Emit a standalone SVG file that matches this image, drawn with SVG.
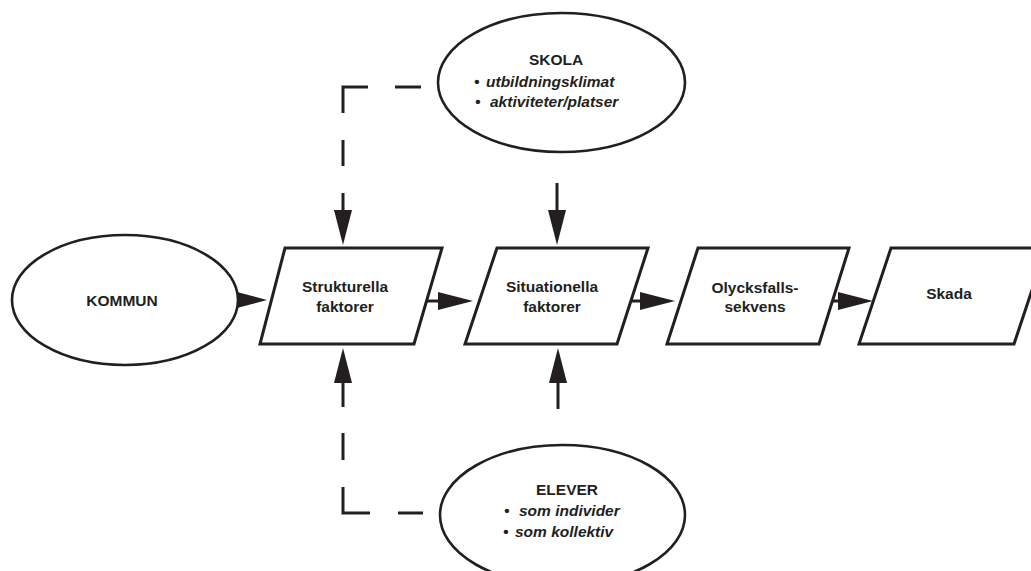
<svg xmlns="http://www.w3.org/2000/svg" width="1031" height="571" viewBox="0 0 1031 571">
<style>
.shape{fill:#fff;stroke:#231f20;stroke-width:3;stroke-linejoin:miter}
.ell{fill:#fff;stroke:#231f20;stroke-width:2.6}
.t{font-family:"Liberation Sans",Arial,sans-serif;font-weight:bold;font-size:15.5px;fill:#231f20}
.c{text-anchor:middle}
.i{font-style:italic}
.line{fill:none;stroke:#231f20;stroke-width:3;stroke-linecap:butt;stroke-linejoin:miter}
.head{fill:#231f20;stroke:none}
</style>
<defs>
<marker id="arr" markerUnits="userSpaceOnUse" markerWidth="36" markerHeight="19" refX="5" refY="9" orient="auto" overflow="visible">
<path d="M0,0 L35,9 L0,18 z" class="head"/>
</marker>
</defs>
<rect width="1031" height="571" fill="#fff"/>

<g id="connectors">
<!-- SKOLA dashed to Strukturella -->
<path class="line" d="M421,87 H395 M368,87 H343 V113 M343,140 V166"/>
<path class="line" d="M343,193 V215" marker-end="url(#arr)"/>
<!-- SKOLA to Situationella -->
<path class="line" d="M557,183 V215" marker-end="url(#arr)"/>
<!-- ELEVER dashed to Strukturella -->
<path class="line" d="M423,513 H398 M370,513 H343 V487 M343,460 V433"/>
<path class="line" d="M343,407 V378" marker-end="url(#arr)"/>
<!-- ELEVER to Situationella -->
<path class="line" d="M558,409 V378" marker-end="url(#arr)"/>
<!-- KOMMUN to Strukturella -->
<polygon class="head" points="237,292 267,300 237,308"/>
<!-- chain -->
<path class="line" d="M427,301 H443" marker-end="url(#arr)"/>
<path class="line" d="M631,301 H645" marker-end="url(#arr)"/>
<path class="line" d="M831,301 H843" marker-end="url(#arr)"/>
</g>

<g id="skola">
<ellipse class="ell" cx="561.5" cy="82.5" rx="123.5" ry="69.5"/>
<text class="t c" x="556" y="65">SKOLA</text>
<text class="t i" y="87"><tspan x="474">•</tspan><tspan x="486">utbildningsklimat</tspan></text>
<text class="t i" y="107"><tspan x="475">•</tspan><tspan x="490">aktiviteter/platser</tspan></text>
</g>

<g id="kommun">
<ellipse class="ell" cx="125" cy="300" rx="113" ry="65"/>
<text class="t c" x="122" y="306">KOMMUN</text>
</g>

<g id="strukturella">
<polygon class="shape" points="285,248 442,248 414,344 260,344"/>
<text class="t c" x="345" y="292">Strukturella</text>
<text class="t c" x="345" y="312">faktorer</text>
</g>

<g id="situationella">
<polygon class="shape" points="497,248 648,248 617,344 465,344"/>
<text class="t c" x="552" y="292">Situationella</text>
<text class="t c" x="552" y="312">faktorer</text>
</g>

<g id="olycksfall">
<polygon class="shape" points="698,248 849,248 819,344 667,344"/>
<text class="t c" x="755" y="293">Olycksfalls-</text>
<text class="t c" x="755" y="312">sekvens</text>
</g>

<g id="skada">
<polygon class="shape" points="891,248 1046,248 1014,344 859,344"/>
<text class="t c" x="949" y="299">Skada</text>
</g>

<g id="elever">
<ellipse class="ell" cx="562.5" cy="515" rx="122.5" ry="70"/>
<text class="t c" x="567" y="495">ELEVER</text>
<text class="t i" y="516"><tspan x="504">•</tspan><tspan x="519">som individer</tspan></text>
<text class="t i" y="537"><tspan x="503">•</tspan><tspan x="515">som kollektiv</tspan></text>
</g>
</svg>
